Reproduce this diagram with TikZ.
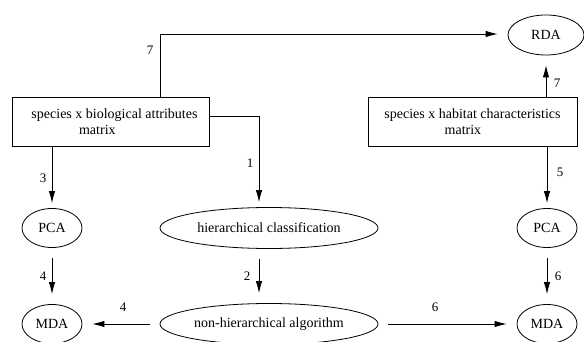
\documentclass[tikz,border=0pt]{standalone}
\usepackage{fontspec}
\setmainfont{Liberation Serif}
\usetikzlibrary{shapes,arrows.meta,positioning,calc}

\begin{document}
\begin{tikzpicture}[x=1pt,y=-1pt,
    font=\fontsize{14}{15.5}\selectfont,
    oval/.style={draw,ellipse,line width=0.8pt,inner sep=0pt,minimum width=60pt,minimum height=39pt},
    wideoval/.style={oval,minimum width=218pt,minimum height=41pt},
    matbox/.style={draw,rectangle,line width=0.8pt,minimum width=197pt,minimum height=49pt,align=left},
    flow/.style={-{Latex[length=12pt,width=6.5pt]},line width=0.8pt},
    gap/.style={shorten >=10pt,shorten <=10pt},
    num/.style={font=\fontsize{13}{14}\selectfont}]
    \useasboundingbox (0,0) rectangle (584,342);

    % data matrices
    \node[matbox] (bio) at (110.5,121.5) {\hspace*{8pt}species x biological attributes\\\hspace*{8pt}\hspace*{3.4em}matrix};
    \node[matbox,minimum width=209pt] (hab) at (472.5,121.5) {species x habitat characteristics\\\hspace*{4.3em}matrix};

    % analyses
    \node[oval,minimum width=76pt,minimum height=40pt] (rda) at (546,35) {RDA};
    \node[oval] (pcab) at (52,228) {PCA};
    \node[oval] (mdab) at (52,324) {MDA};
    \node[wideoval] (hier) at (269,228) {hierarchical classification};
    \node[wideoval] (nonh) at (269,324) {non-hierarchical algorithm};
    \node[oval] (pcah) at (547,228) {PCA};
    \node[oval] (mdah) at (547,324) {MDA};

    % bends
    \coordinate (up7) at (160,34);
    \coordinate (down1) at (259,116);

    \draw[flow,shorten >=10pt] (up7 |- bio.north) -- (up7) -- (up7 -| rda.west);
    \draw[flow,shorten >=5pt] (down1 -| bio.east) -- (down1) -- (down1 |- hier.north);
    \draw[flow,shorten >=5pt] (pcab |- bio.south) -- (pcab.north);
    \draw[flow,shorten >=5pt] (pcah |- hab.south) -- (pcah.north);
    \draw[flow,shorten >=10pt] (hab.north -| rda) -- (rda.south);
    \draw[flow,gap] (pcab) -- (mdab);
    \draw[flow,gap] (pcah) -- (mdah);
    \draw[flow,gap] (hier.south -| down1) -- (nonh.north -| down1);
    \draw[flow,gap] (nonh) -- (mdab);
    \draw[flow,gap] (nonh) -- (mdah);

    % step numbers
    \node[num] (n7a) at (150,50) {7};
    \node[num] (n7b) at (557,83) {7};
    \node[num] (n1) at (250,163) {1};
    \node[num] (n3) at (43,178) {3};
    \node[num] (n5) at (560,172) {5};
    \node[num] (n4a) at (43,276) {4};
    \node[num] (n2) at (247,276) {2};
    \node[num] (n6a) at (558,276) {6};
    \node[num] (n4b) at (123,307) {4};
    \node[num] (n6b) at (435,307) {6};
\end{tikzpicture}
\end{document}
